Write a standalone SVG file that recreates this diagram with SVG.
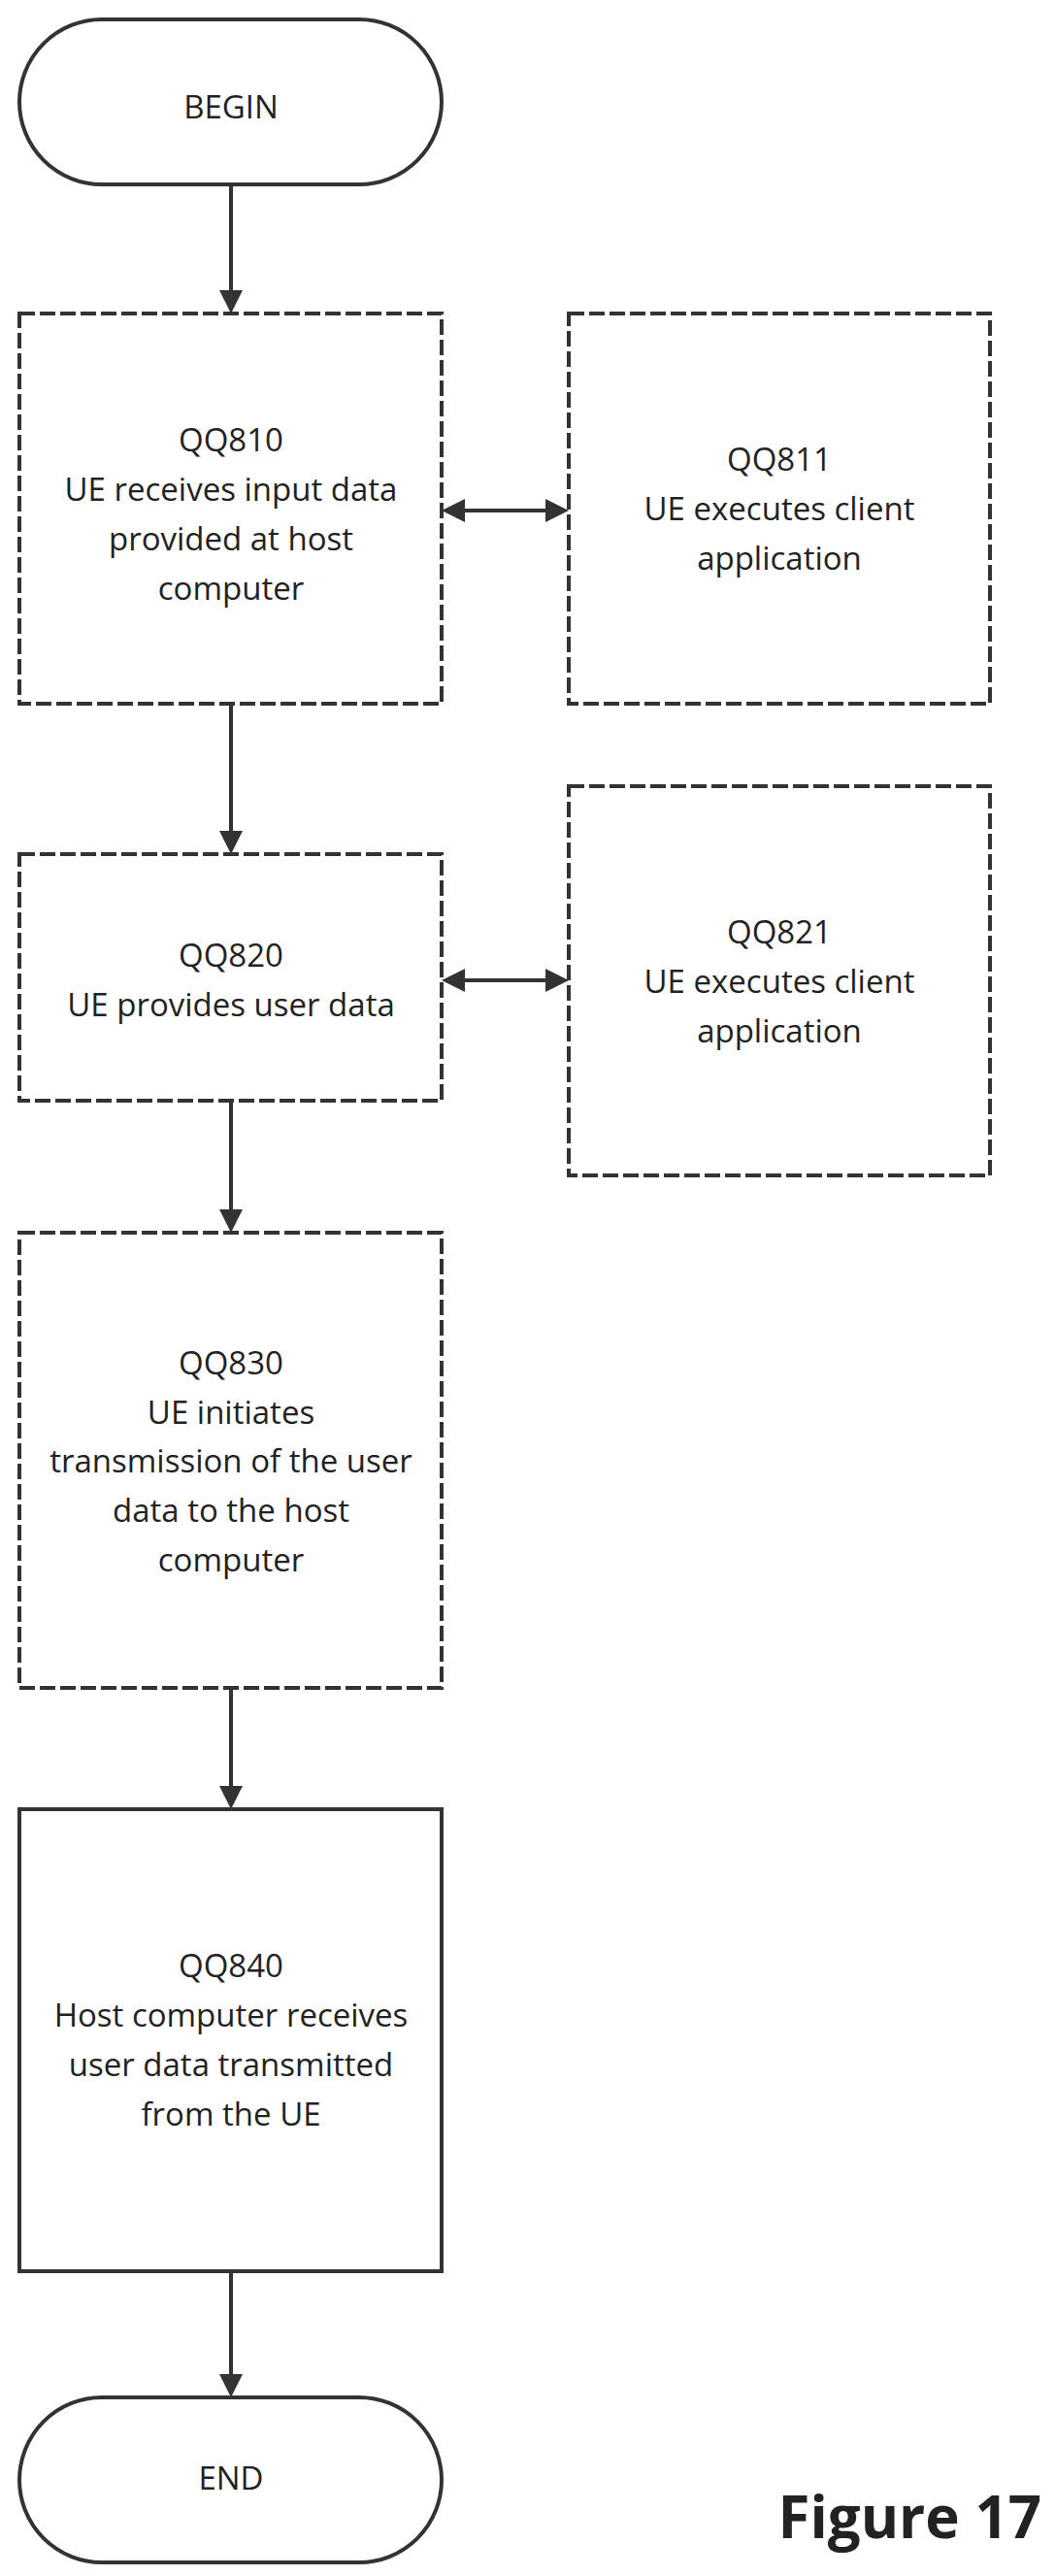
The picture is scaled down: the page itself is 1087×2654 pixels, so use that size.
<svg xmlns="http://www.w3.org/2000/svg" width="1087" height="2654" viewBox="0 0 1087 2654">
<style>
.t{font-family:"Open Sans","Liberation Sans",sans-serif;font-size:33px;fill:#222;text-anchor:middle;dominant-baseline:central}
.d{fill:#fff;stroke:#333;stroke-width:4;stroke-dasharray:16 5}
.s{fill:#fff;stroke:#333;stroke-width:4}
.c{stroke:#333;stroke-width:4;fill:none}
</style>
<defs><marker id="a" markerWidth="6" markerHeight="6" refX="5" refY="3" orient="auto-start-reverse" markerUnits="strokeWidth"><path d="M0,0L6,3L0,6z" fill="#333"/></marker></defs>
<rect width="1087" height="2654" fill="#fff"/>
<g id="connectors">
<line class="c" x1="238" y1="190" x2="238" y2="319" marker-end="url(#a)"/>
<line class="c" x1="238" y1="725" x2="238" y2="876" marker-end="url(#a)"/>
<line class="c" x1="238" y1="1134" x2="238" y2="1266" marker-end="url(#a)"/>
<line class="c" x1="238" y1="1739" x2="238" y2="1860" marker-end="url(#a)"/>
<line class="c" x1="238" y1="2340" x2="238" y2="2466" marker-end="url(#a)"/>
<line class="c" x1="459" y1="526" x2="582" y2="526" marker-start="url(#a)" marker-end="url(#a)"/>
<line class="c" x1="459" y1="1010" x2="582" y2="1010" marker-start="url(#a)" marker-end="url(#a)"/>
</g>
<g id="begin"><rect class="s" x="20" y="20" width="435" height="170" rx="85"/><text class="t" x="238" y="109">BEGIN</text></g>
<g id="qq810"><rect class="d" x="20" y="323" width="435" height="402"/><text class="t" x="238" y="452">QQ810</text><text class="t" x="238" y="503">UE receives input data</text><text class="t" x="238" y="554">provided at host</text><text class="t" x="238" y="605">computer</text></g>
<g id="qq811"><rect class="d" x="586" y="323" width="434" height="402"/><text class="t" x="803" y="472">QQ811</text><text class="t" x="803" y="523">UE executes client</text><text class="t" x="803" y="574">application</text></g>
<g id="qq820"><rect class="d" x="20" y="880" width="435" height="254"/><text class="t" x="238" y="983">QQ820</text><text class="t" x="238" y="1034">UE provides user data</text></g>
<g id="qq821"><rect class="d" x="586" y="810" width="434" height="401"/><text class="t" x="803" y="959">QQ821</text><text class="t" x="803" y="1010">UE executes client</text><text class="t" x="803" y="1061">application</text></g>
<g id="qq830"><rect class="d" x="20" y="1270" width="435" height="469"/><text class="t" x="238" y="1403">QQ830</text><text class="t" x="238" y="1454">UE initiates</text><text class="t" x="238" y="1504">transmission of the user</text><text class="t" x="238" y="1555">data to the host</text><text class="t" x="238" y="1606">computer</text></g>
<g id="qq840"><rect class="s" x="20" y="1864" width="435" height="476"/><text class="t" x="238" y="2024">QQ840</text><text class="t" x="238" y="2075">Host computer receives</text><text class="t" x="238" y="2126">user data transmitted</text><text class="t" x="238" y="2177">from the UE</text></g>
<g id="end"><rect class="s" x="20" y="2470" width="435" height="170" rx="85"/><text class="t" x="238" y="2552">END</text></g>
<text x="1073" y="2615" style="font-family:'Open Sans','Liberation Sans',sans-serif;font-size:60px;font-weight:bold;fill:#222;text-anchor:end">Figure 17</text>
</svg>
